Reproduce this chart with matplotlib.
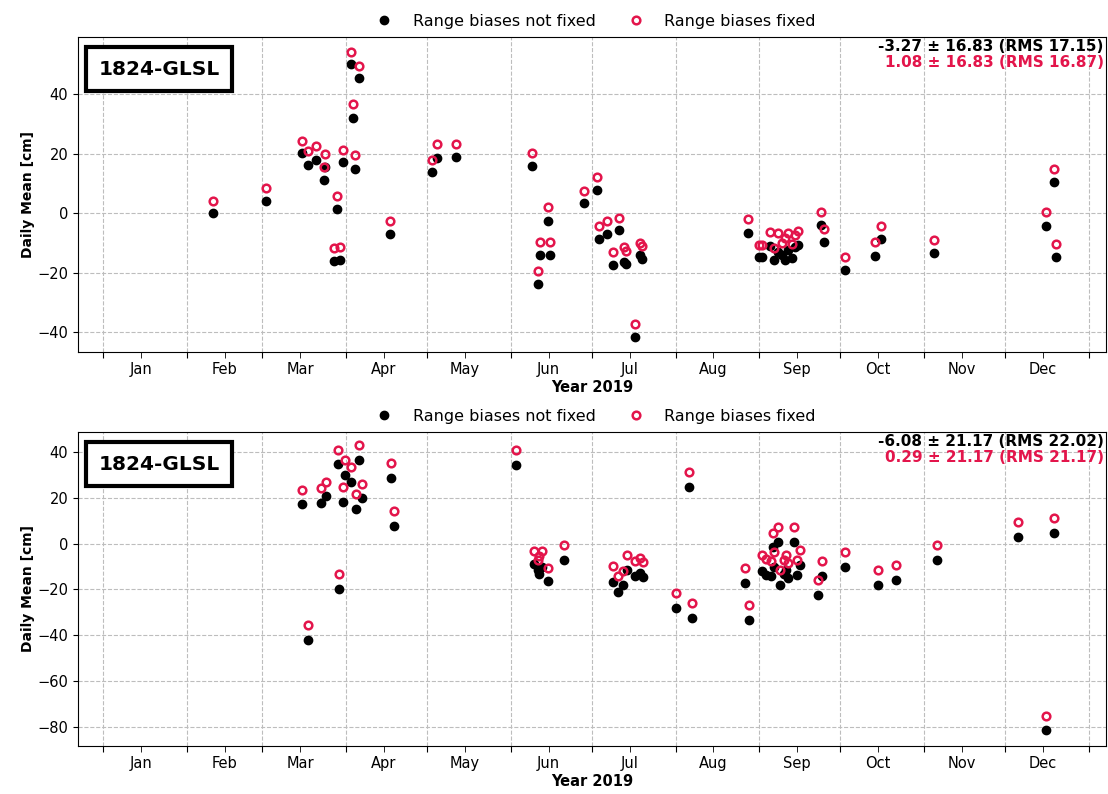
import numpy as np
import pandas as pd
import matplotlib
matplotlib.use('Agg')
import matplotlib.pyplot as plt
import matplotlib.dates as mdates
from matplotlib.ticker import NullFormatter

# day of year (2019) and daily means [cm]
top_doy = [40.6, 60.4, 73.7, 75.8, 78.8, 82.3, 81.7, 88.9, 86.7, 85.3, 87.7, 91.7, 94.8, 92.6,
           93.4, 106.4, 121.7, 123.8, 130.5, 158.9, 164.8, 161.7, 165.6, 161.0, 177.9, 182.9,
           183.7, 186.7, 191.0, 188.8, 193.0, 193.7, 199.0, 199.7, 196.8, 239.0, 242.9, 244.1,
           247.0, 248.3, 250.1, 251.4, 252.6, 253.6, 255.1, 256.3, 257.5, 265.8, 266.9, 274.9,
           285.7, 287.9, 307.7, 349.1, 352.0, 352.9]
top_not_fixed = [-0.1, 4.0, 20.1, 16.2, 17.8, 15.6, 11.0, 17.1, 1.3, -16.2, -15.8, 50.1, 45.5, 32.0,
                 14.8, -7.1, 13.7, 18.6, 18.9, 15.9, -2.5, -14.0, -14.0, -23.9, 3.3, 7.7,
                 -8.6, -7.2, -5.8, -17.5, -16.5, -17.0, -14.2, -15.6, -41.7, -6.7, -14.8, -14.8,
                 -11.0, -15.9, -13.0, -14.2, -15.8, -12.4, -15.2, -11.5, -10.8, -3.9, -9.8, -19.0,
                 -14.4, -8.6, -13.3, -4.5, 10.4, -14.8]
top_fixed = [4.0, 8.3, 24.4, 20.9, 22.5, 19.7, 15.4, 21.3, 5.6, -11.8, -11.4, 54.2, 49.6, 36.6,
             19.4, -2.5, 17.9, 23.2, 23.2, 20.2, 2.1, -9.7, -9.7, -19.4, 7.5, 12.1,
             -4.5, -2.8, -1.7, -13.2, -11.5, -12.9, -10.1, -11.0, -37.4, -2.0, -10.7, -10.7,
             -6.3, -11.7, -6.8, -10.2, -8.5, -6.8, -10.5, -7.4, -6.1, 0.2, -5.5, -14.8,
             -9.7, -4.4, -9.0, 0.2, 14.8, -10.5]

bot_doy = [73.6, 80.7, 82.6, 86.8, 89.7, 91.7, 88.9, 94.7, 95.7, 93.8, 106.6, 107.8, 87.5, 75.8,
           152.8, 159.6, 162.4, 161.5, 160.9, 164.9, 170.5, 188.8, 190.8, 192.7, 193.9, 196.8,
           198.9, 199.9, 212.0, 217.1, 218.0, 237.7, 239.1, 244.1, 245.6, 247.2, 248.0, 250.0,
           248.6, 250.7, 252.0, 252.9, 253.8, 255.9, 256.9, 258.0, 266.1, 264.6, 274.8, 286.9,
           293.7, 309.0, 339.0, 352.0, 349.1]
bot_not_fixed = [17.2, 17.8, 20.7, 34.6, 30.1, 26.8, 18.2, 36.6, 19.7, 15.3, 28.5, 7.7, -19.7, -42.1,
                 34.5, -8.8, -10.0, -13.2, -11.5, -16.5, -7.3, -16.7, -21.3, -18.2, -11.4, -14.0,
                 -12.8, -14.6, -28.1, 24.6, -32.6, -17.2, -33.5, -12.1, -13.5, -14.3, -1.6, 0.9,
                 -10.0, -17.9, -13.1, -11.4, -15.0, 0.9, -13.5, -9.2, -14.0, -22.6, -10.0, -17.9,
                 -15.7, -7.3, 2.8, 4.7, -81.2]
bot_fixed = [23.3, 24.1, 27.1, 41.0, 36.7, 33.3, 24.8, 43.1, 26.2, 21.8, 35.1, 14.1, -13.1, -35.5,
             41.0, -3.4, -3.4, -5.3, -7.3, -10.6, -0.6, -9.9, -14.3, -12.1, -5.1, -7.7,
             -6.3, -8.2, -21.5, 31.1, -26.1, -10.6, -27.0, -4.8, -6.7, -7.7, 4.8, 7.4,
             -3.7, -11.6, -7.0, -4.8, -8.4, 7.3, -7.0, -2.6, -7.7, -16.0, -3.6, -11.7,
             -9.2, -0.7, 9.3, 11.2, -75.1]

station = '1824-GLSL'
stats_top = ['-3.27 ± 16.83 (RMS 17.15)', '1.08 ± 16.83 (RMS 16.87)']
stats_bot = ['-6.08 ± 21.17 (RMS 22.02)', '0.29 ± 21.17 (RMS 21.17)']

RED = '#e3154b'
start = pd.Timestamp('2019-01-01')


def to_dates(doy):
    return start + pd.to_timedelta(np.array(doy), unit='D')


def draw_panel(ax, doy, not_fixed, fixed, stats, ylim, yticks):
    d = to_dates(doy)
    ax.plot(d, not_fixed, 'o', color='black', ms=6, label='Range biases not fixed', zorder=3)
    ax.plot(d, fixed, 'o', mfc='none', mec=RED, mew=1.8, ms=5.5, label='Range biases fixed', zorder=3)

    ax.set_xlim(pd.Timestamp('2018-12-22 16:00'), pd.Timestamp('2020-01-07 08:00'))
    ax.set_ylim(*ylim)
    ax.set_yticks(yticks)

    ax.xaxis.set_major_locator(mdates.MonthLocator())
    ax.xaxis.set_major_formatter(NullFormatter())
    ax.xaxis.set_minor_locator(mdates.MonthLocator(bymonthday=15))
    ax.xaxis.set_minor_formatter(mdates.DateFormatter('%b'))
    ax.tick_params(axis='x', which='both', length=4, labelsize=10.5)
    ax.tick_params(axis='y', labelsize=10.5)

    ax.grid(True, which='major', linestyle='--', color='#bdbdbd', linewidth=0.8)
    ax.set_axisbelow(True)

    ax.set_xlabel('Year 2019', fontweight='bold', fontsize=10.5, labelpad=2)
    ax.set_ylabel('Daily Mean [cm]', fontweight='bold', fontsize=10, labelpad=2)

    ax.text(0.02, 0.897, station, transform=ax.transAxes, fontsize=14.5, fontweight='bold',
            va='center', ha='left',
            bbox=dict(boxstyle='square,pad=0.62', fc='white', ec='black', lw=3))
    ax.text(0.998, 0.993, stats[0], transform=ax.transAxes, ha='right', va='top',
            fontsize=11, fontweight='bold', color='black')
    ax.text(0.998, 0.942, stats[1], transform=ax.transAxes, ha='right', va='top',
            fontsize=11, fontweight='bold', color=RED)

    ax.legend(loc='lower center', bbox_to_anchor=(0.5, 1.0), ncol=2, frameon=False,
              fontsize=11.5, borderaxespad=0.1, columnspacing=1.5)


fig = plt.figure(figsize=(11.08, 7.94), dpi=100)
ax1 = fig.add_axes([0.0704, 0.5567, 0.9276, 0.3967])
ax2 = fig.add_axes([0.0704, 0.0605, 0.9276, 0.3954])

draw_panel(ax1, top_doy, top_not_fixed, top_fixed, stats_top, (-46.7, 59.2), [-40, -20, 0, 20, 40])
draw_panel(ax2, bot_doy, bot_not_fixed, bot_fixed, stats_bot, (-88.3, 48.7), [-80, -60, -40, -20, 0, 20, 40])

fig.savefig('out.png', dpi=100)
